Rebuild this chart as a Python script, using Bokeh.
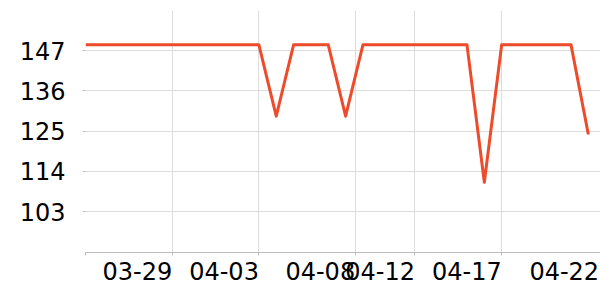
from bokeh.plotting import figure
from bokeh.models import FixedTicker, Range1d
from bokeh.embed import file_html
from bokeh.resources import INLINE

# data
dates = ["03-24", "03-25", "03-26", "03-27", "03-28", "03-29", "03-30", "03-31",
         "04-01", "04-02", "04-03", "04-04", "04-05", "04-06", "04-07", "04-08",
         "04-09", "04-10", "04-11", "04-12", "04-13", "04-14", "04-15", "04-16",
         "04-17", "04-18", "04-19", "04-20", "04-21", "04-22"]
values = [148.6, 148.6, 148.6, 148.6, 148.6, 148.6, 148.6, 148.6,
          148.6, 148.6, 148.6, 129.1, 148.6, 148.6, 148.6, 129.1,
          148.6, 148.6, 148.6, 148.6, 148.6, 148.6, 148.6, 111.0,
          148.6, 148.6, 148.6, 148.6, 148.6, 124.1]
y_ticks = [103, 114, 125, 136, 147]
x_tick_pos = [0, 5, 10, 15.55, 19, 24]
x_label_pos = [5, 10, 15.55, 19, 24, 29.62]
x_tick_labels = ["03-29", "04-03", "04-08", "04-12", "04-17", "04-22"]

x = list(range(len(dates)))

p = figure(width=600, height=300, output_backend="svg", toolbar_location=None,
           x_range=Range1d(0, 29.7), y_range=Range1d(91.8, 158.0),
           min_border_left=85, min_border_right=0, min_border_top=10,
           min_border_bottom=48)
p.outline_line_color = None
p.background_fill_color = "white"
p.border_fill_color = "white"

p.line(x, values, line_color="#ee4b2b", line_width=3, line_join="round")

font = "DejaVu Sans"
# labels right-aligned to their tick positions (centres shifted by half a label width);
# visible tick marks are drawn as "minor" ticks at the grid positions
half_label_days = 2.01
label_centers = [pos - half_label_days for pos in x_label_pos]
p.xaxis.ticker = FixedTicker(ticks=label_centers, minor_ticks=x_tick_pos)
p.xaxis.major_label_overrides = {c: t for c, t in zip(label_centers, x_tick_labels)}
p.xaxis.axis_line_color = "#bbbbbb"
p.xaxis.major_tick_line_color = None
p.xaxis.major_tick_out = 3
p.xaxis.major_tick_in = 0
p.xaxis.minor_tick_line_color = "#bbbbbb"
p.xaxis.minor_tick_out = 3
p.xaxis.minor_tick_in = 0
p.xaxis.major_label_standoff = 6
p.xaxis.major_label_text_font = font
p.xaxis.major_label_text_font_size = "24px"
p.xaxis.major_label_text_color = "black"

p.yaxis.ticker = FixedTicker(ticks=y_ticks)
p.yaxis.axis_line_color = None
p.yaxis.minor_tick_line_color = None
p.yaxis.major_tick_line_color = "#bbbbbb"
p.yaxis.major_tick_out = 3
p.yaxis.major_tick_in = 0
p.yaxis.major_label_standoff = 17
p.yaxis.major_label_text_font = font
p.yaxis.major_label_text_font_size = "24px"
p.yaxis.major_label_text_color = "black"

p.xgrid.ticker = FixedTicker(ticks=x_tick_pos)
p.xgrid.grid_line_color = "#dddddd"
p.ygrid.grid_line_color = "#dddddd"

open("out.html", "w").write(file_html(p, INLINE))
